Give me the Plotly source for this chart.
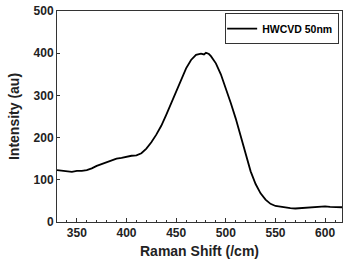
import plotly.graph_objects as go

shift = [330, 335, 340, 345, 350, 355, 360, 365, 370, 375, 380, 385, 390, 395, 400,
         405, 410, 415, 420, 425, 430, 435, 440, 445, 450, 455, 460, 465, 470, 475,
         478, 480, 483, 485, 490, 495, 500, 505, 510, 515, 520, 525, 530, 535, 540,
         545, 550, 555, 560, 565, 570, 575, 580, 585, 590, 595, 600, 605, 610, 617]
intensity = [123, 122, 121, 119, 121, 121, 123, 127, 133, 137, 142, 146, 150, 152, 155,
             157, 158, 163, 174, 189, 207, 228, 254, 282, 311, 338, 364, 384, 396, 399,
             397, 401, 398, 393, 376, 350, 318, 282, 245, 205, 163, 120, 90, 68, 53,
             43, 38, 36, 35, 33, 32, 33, 34, 34, 36, 37, 37, 36, 35, 35]

fig = go.Figure()
fig.add_trace(go.Scatter(x=shift, y=intensity, mode="lines", name="<b>HWCVD 50nm</b>",
                         line=dict(color="black", width=1.8)))

fig.update_layout(
    width=344, height=267,
    margin=dict(l=57, r=2, t=11, b=45),
    plot_bgcolor="white", paper_bgcolor="white",
    showlegend=True,
    legend=dict(x=0.99, y=0.99, xanchor="right", yanchor="top",
                bordercolor="#333", borderwidth=1, bgcolor="white",
                font=dict(family="Liberation Sans, Arial", size=10.5, color="black"),
                itemwidth=30, tracegroupgap=0, indentation=-4),
    xaxis=dict(range=[330, 617], tickvals=[350, 400, 450, 500, 550, 600],
               ticks="inside", ticklen=4, tickcolor="#333", mirror=True,
               showline=True, linecolor="#333", linewidth=1, showgrid=False,
               zeroline=False,
               minor=dict(dtick=10, tick0=0, ticks="inside", ticklen=2, tickcolor="#333"),
               tickfont=dict(family="Liberation Sans, Arial", size=12, color="#222", weight="bold"),
               title=dict(text="<b>Raman Shift (/cm)</b>", standoff=6,
                          font=dict(family="Liberation Sans, Arial", size=14, color="#222"))),
    yaxis=dict(range=[0, 500], dtick=100, ticks="inside", ticklen=3, tickcolor="#333",
               mirror=True, showline=True, linecolor="#333", linewidth=1,
               showgrid=False, zeroline=False,
               tickfont=dict(family="Liberation Sans, Arial", size=12, color="#222", weight="bold"),
               title=dict(text="<b>Intensity (au)</b>", standoff=10,
                          font=dict(family="Liberation Sans, Arial", size=14, color="#222"))),
)
fig.write_html("out.html")
